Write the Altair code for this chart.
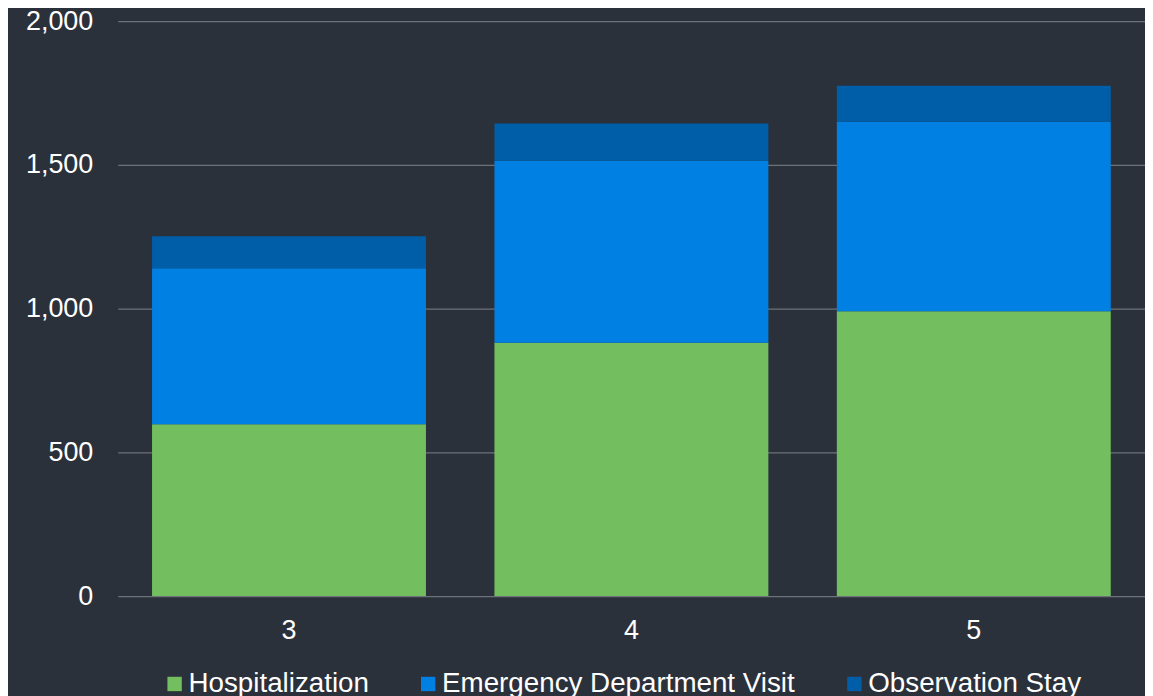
import altair as alt
import pandas as pd

categories = ["3", "4", "5"]
series = ["Hospitalization", "Emergency Department Visit", "Observation Stay"]
hospitalization = [598, 881, 991]
emergency = [542, 633, 659]
observation = [112, 130, 125]
colors = ["#73bf5f", "#0080e2", "#005ea8"]
y_ticks = [0, 500, 1000, 1500, 2000]

rows = []
for i, c in enumerate(categories):
    for j, (s, vals) in enumerate(zip(series, [hospitalization, emergency, observation])):
        rows.append({"cat": c, "series": s, "value": vals[i], "ord": j})
df = pd.DataFrame(rows)

FONT = "Liberation Sans"
FS = 27
LFS = 27.8

chart = alt.Chart(df).mark_bar().encode(
    x=alt.X("cat:N", sort=categories,
            scale=alt.Scale(paddingInner=0.2, paddingOuter=0.1),
            axis=alt.Axis(title=None, labelAngle=0, domain=False, ticks=False,
                          labelPadding=21, labelFontSize=FS, labelColor="#ffffff",
                          labelFont=FONT, grid=False)),
    y=alt.Y("value:Q", stack="zero",
            scale=alt.Scale(domain=[0, 2000], nice=False),
            axis=alt.Axis(title=None, values=y_ticks, format=",.0f", domain=False, ticks=False,
                          labelPadding=25, labelFontSize=FS, labelColor="#ffffff",
                          labelFont=FONT, grid=True, gridColor="#6d7277", gridWidth=1.3)),
    color=alt.Color("series:N", sort=series,
                    scale=alt.Scale(domain=series, range=colors),
                    legend=alt.Legend(title=None, orient="none", legendX=43, legendY=650,
                                      direction="horizontal", symbolType="square",
                                      symbolSize=207, symbolStrokeWidth=0,
                                      labelFontSize=LFS, labelColor="#ffffff", labelFont=FONT,
                                      labelOffset=0, columnPadding=45, labelLimit=600,
                                      padding=0)),
    order=alt.Order("ord:Q", sort="ascending"),
).properties(
    width=1029, height=576,
    background="#2b313b",
    autosize=alt.AutoSizeParams(type="none"),
    padding={"left": 110, "top": 12.5, "right": 0, "bottom": 106},
).configure_view(stroke=None)

chart.save("out.html", embed_options={"renderer": "svg", "actions": False})
